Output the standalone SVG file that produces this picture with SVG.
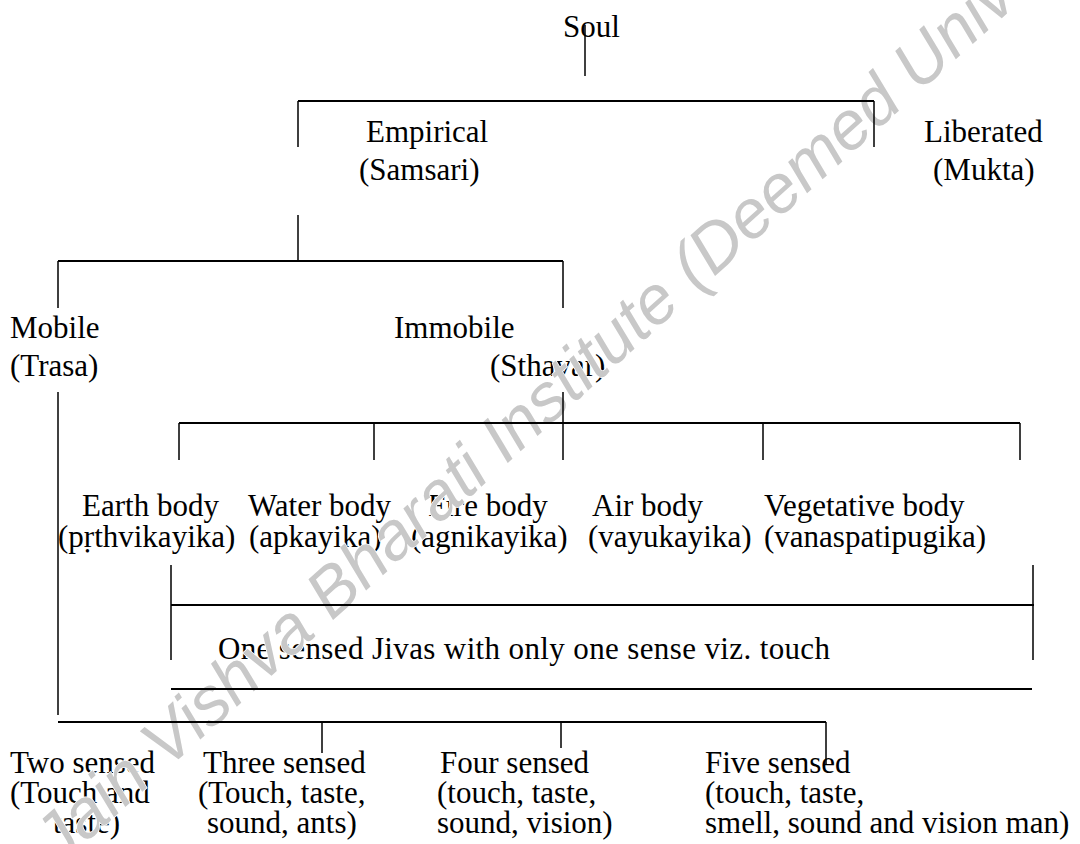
<svg xmlns="http://www.w3.org/2000/svg" width="1080" height="844" viewBox="0 0 1080 844">
<style>
.t text{font-family:"Liberation Serif","DejaVu Serif","Times New Roman",serif;font-size:31px;fill:#000}
.h{stroke:#000;stroke-width:2;fill:none}
.v{stroke:#000;stroke-width:1.5;fill:none}
.wm{font-family:"Liberation Sans","DejaVu Sans",Arial,sans-serif;font-style:italic;font-size:68px;fill:#c8c8c8;stroke:#fff;stroke-width:1.5;paint-order:stroke}
</style>
<rect width="1080" height="844" fill="#fff"/>
<g class="t" font-family="Liberation Serif, DejaVu Serif, serif">
<g id="soul"><text x="563" y="37">Soul</text></g>
<g id="empirical"><text x="366" y="142">Empirical</text><text x="359" y="180">(Samsari)</text></g>
<g id="liberated"><text x="924" y="142">Liberated</text><text x="933" y="180">(Mukta)</text></g>
<g id="mobile"><text x="10" y="338">Mobile</text><text x="10" y="376">(Trasa)</text></g>
<g id="immobile"><text x="394" y="338">Immobile</text><text x="490" y="376">(Sthavar)</text></g>
<g id="earth"><text x="82" y="516">Earth body</text><text x="58" y="547">(pṛthvikayika)</text></g>
<g id="water"><text x="248" y="516">Water body</text><text x="249" y="547">(apkayika)</text></g>
<g id="fire"><text x="428" y="516">Fire body</text><text x="411" y="547">(agnikayika)</text></g>
<g id="air"><text x="592" y="516">Air body</text><text x="588" y="547">(vayukayika)</text></g>
<g id="vegetative"><text x="764" y="516">Vegetative body</text><text x="764" y="547">(vanaspatipugika)</text></g>
<g id="one-sensed"><text x="218" y="659" textLength="612" lengthAdjust="spacing">One sensed Jivas with only one sense viz. touch</text></g>
<g id="two-sensed"><text x="10" y="773">Two sensed</text><text x="10" y="803">(Touch and</text><text x="53" y="833">taste)</text></g>
<g id="three-sensed"><text x="203" y="773">Three sensed</text><text x="198" y="803">(Touch, taste,</text><text x="207" y="833">sound, ants)</text></g>
<g id="four-sensed"><text x="440" y="773">Four sensed</text><text x="437" y="803">(touch, taste,</text><text x="437" y="833">sound, vision)</text></g>
<g id="five-sensed"><text x="705" y="773">Five sensed</text><text x="705" y="803">(touch, taste,</text><text x="705" y="833">smell, sound and vision man)</text></g>
</g>
<g id="watermark"><text class="wm" transform="translate(60 866) rotate(-42)">Jain Vishva Bharati Institute (Deemed University)</text></g>
<g id="connectors">
<path class="v" d="M585 25V76"/>
<path class="h" d="M298 101H874"/>
<path class="v" d="M298 101V147M874 101V147"/>
<path class="v" d="M298 215V261"/>
<path class="h" d="M58 261H563"/>
<path class="v" d="M58 261V308M563 261V308"/>
<path class="v" d="M58 392V715"/>
<path class="v" d="M563 392V460"/>
<path class="h" d="M179 423H1020"/>
<path class="v" d="M179 423V460M374 423V460M763 423V460M1020 423V460"/>
<path class="v" d="M171 565V660M1033 565V660"/>
<path class="h" d="M171 605H1034"/>
<path class="h" d="M171 689H1032"/>
<path class="h" d="M58 722H826"/>
<path class="v" d="M322 722V753M561 722V748M826 722V764"/>
</g>
</svg>
